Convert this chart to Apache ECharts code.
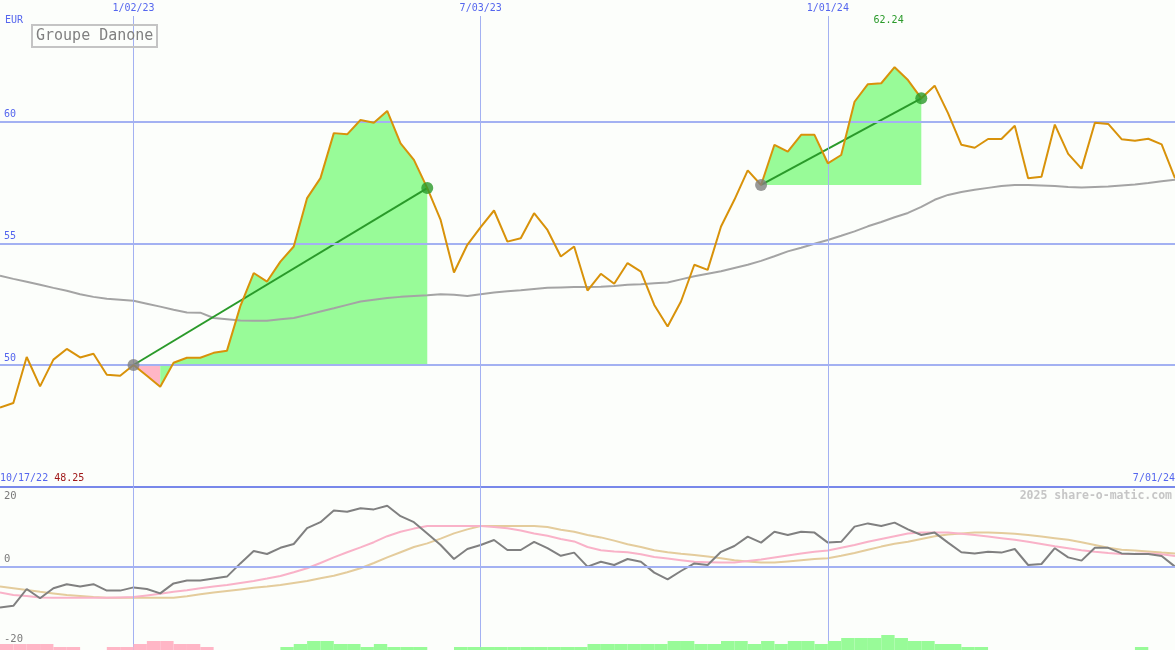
<!DOCTYPE html>
<html><head><meta charset="utf-8">
<script src="https://cdn.jsdelivr.net/npm/echarts@6/dist/echarts.min.js"></script>
<style>html,body{margin:0;padding:0;background:#fcfefb}#c{width:1175px;height:650px}</style>
</head><body><div id="c"></div>
<script>
// ---- data (weekly, index 0 = 10/17/22, index 88 = 7/01/24) ----
const title = 'Groupe Danone';
const currency = 'EUR';
const dateLabels = ['10/17/22','1/02/23','7/03/23','1/01/24','7/01/24'];
const dateIndex = [0,10,36,62,88];
const priceTicks = [50,55,60];
const oscTicks = [20,0,-20];
const price = [48.25,48.44,50.33,49.12,50.22,50.66,50.31,50.46,49.60,49.56,
  50.00,49.56,49.11,50.09,50.30,50.30,50.50,50.59,52.42,53.78,
  53.43,54.25,54.87,56.86,57.68,59.53,59.48,60.07,59.96,60.44,
  59.11,58.43,57.27,55.96,53.80,54.94,55.67,56.35,55.07,55.21,
  56.24,55.55,54.46,54.87,53.06,53.75,53.34,54.19,53.84,52.47,
  51.58,52.61,54.12,53.91,55.69,56.79,58.00,57.40,59.05,58.77,
  59.46,59.46,58.29,58.63,60.82,61.54,61.58,62.24,61.71,60.96,
  61.48,60.35,59.05,58.93,59.29,59.29,59.83,57.68,57.74,59.88,
  58.68,58.07,59.96,59.91,59.28,59.22,59.30,59.07,57.68];
const ma = [53.67,53.54,53.42,53.30,53.17,53.05,52.91,52.80,52.72,52.68,
  52.64,52.52,52.40,52.27,52.16,52.15,51.93,51.88,51.83,51.82,
  51.82,51.88,51.93,52.06,52.20,52.33,52.47,52.61,52.68,52.75,
  52.80,52.84,52.87,52.91,52.89,52.84,52.91,52.98,53.03,53.07,
  53.12,53.17,53.19,53.21,53.21,53.22,53.25,53.30,53.32,53.36,
  53.39,53.52,53.65,53.75,53.85,53.99,54.12,54.28,54.47,54.67,
  54.82,54.98,55.14,55.31,55.49,55.70,55.88,56.07,56.25,56.50,
  56.79,56.99,57.11,57.20,57.28,57.36,57.40,57.40,57.38,57.36,
  57.32,57.30,57.32,57.34,57.38,57.42,57.48,57.55,57.61];
const osc = [-10.1,-9.7,-5.5,-7.8,-5.3,-4.3,-4.9,-4.3,-5.9,-5.9,
  -5.1,-5.5,-6.6,-4.1,-3.4,-3.4,-2.9,-2.4,0.9,4.0,
  3.25,4.8,5.75,9.7,11.2,14.1,13.8,14.7,14.4,15.3,
  12.7,11.2,8.4,5.5,2.0,4.5,5.5,6.75,4.25,4.25,
  6.3,4.7,2.8,3.6,0.1,1.3,0.5,2.0,1.3,-1.4,
  -3.1,-1.0,0.9,0.5,3.8,5.25,7.6,6.1,8.8,8.0,
  8.8,8.6,6.1,6.3,10.1,10.9,10.25,11.1,9.4,8.0,
  8.6,6.1,3.7,3.4,3.8,3.6,4.5,0.5,0.75,4.7,
  2.4,1.6,4.8,4.8,3.4,3.25,3.25,2.75,0.1];
const oscPink = [-6.4,-7.0,-7.25,-7.6,-7.7,-7.7,-7.7,-7.7,-7.7,-7.6,
  -7.5,-7.1,-6.7,-6.2,-5.8,-5.3,-4.9,-4.5,-4.0,-3.5,
  -2.9,-2.25,-1.3,-0.3,1.0,2.4,3.7,4.9,6.2,7.7,
  8.8,9.6,10.25,10.25,10.25,10.25,10.25,10.0,9.7,9.1,
  8.4,7.8,7.0,6.4,5.0,4.2,3.9,3.7,3.2,2.5,
  2.1,1.7,1.3,1.2,1.1,1.1,1.5,1.9,2.4,2.9,
  3.4,3.8,4.1,4.8,5.5,6.3,7.0,7.7,8.4,8.6,
  8.6,8.6,8.3,8.0,7.6,7.2,6.8,6.3,5.75,5.2,
  4.7,4.2,3.8,3.5,3.25,3.3,3.4,3.2,2.75];
const oscTan = [-4.9,-5.3,-5.75,-6.2,-6.6,-7.0,-7.25,-7.5,-7.7,-7.7,
  -7.7,-7.7,-7.7,-7.7,-7.3,-6.8,-6.4,-6.0,-5.6,-5.2,
  -4.9,-4.5,-4.0,-3.5,-2.8,-2.2,-1.3,-0.3,1.0,2.4,
  3.7,5.0,5.9,7.1,8.4,9.4,10.25,10.25,10.25,10.25,
  10.25,10.0,9.3,8.8,8.0,7.4,6.6,5.7,5.0,4.2,
  3.7,3.3,3.0,2.6,2.2,1.7,1.4,1.1,1.1,1.4,
  1.7,2.0,2.2,2.8,3.5,4.3,5.1,5.8,6.3,7.0,
  7.7,8.1,8.4,8.6,8.6,8.5,8.3,8.0,7.6,7.2,
  6.8,6.2,5.5,4.8,4.3,4.1,3.9,3.6,3.4];
// histogram levels per week (negative = pink, positive = green)
const hist = [-2,-2,-2,-2,-1,-1,0,0,-1,-1,-2,-3,-3,-2,-2,-1,0,0,0,0,0,
  1,2,3,3,2,2,1,2,1,1,1,0,0,
  1,1,1,1,1,1,1,1,1,1,2,2,2,2,2,2,3,3,2,2,3,3,2,3,2,3,3,2,3,
  4,4,4,5,4,3,3,2,2,1,1,0,0,0,0,0,0,0,0,0,0,0,1,0,0];
const trendStart = [10,57];
const trendEnd = [32,69];
const fillSplit = [12,57];   // pink fill up to this week, green after

// ---- styles ----
const MONO = 'DejaVu Sans Mono';
const GRID_C = '#a3b1f2';
const AXIS_C = '#7888ea';
const LABEL_C = '#5566ee';
const GREEN_FILL = '#98fb98';
const PINK_FILL = '#ffb6c6';
const N = price.length - 1;

function seg(arr, a, b){ const out=[]; for(let i=a;i<=b;i++) out.push([i, arr[i]]); return out; }

const series = [];
// gridline holder, upper panel
series.push({
  type:'line', xAxisIndex:0, yAxisIndex:0, z:1, silent:true,
  data: seg(ma,0,N), showSymbol:false, lineStyle:{width:0, opacity:0},
  markLine:{ silent:true, symbol:['none','none'], animation:false,
    data: priceTicks.map(v=>({yAxis:v, name:String(v),
        lineStyle:{color:GRID_C,width:2,type:'solid'},
        label:{show:true, position:'insideStartTop', formatter:'{b}', color:LABEL_C,
               fontFamily:MONO, fontSize:10, distance:[4,2]}}))
      .concat(dateIndex.slice(1,4).map((d,k)=>({xAxis:d, name:dateLabels[k+1],
        lineStyle:{color:GRID_C,width:1,type:'solid'},
        label:{show:true, position:'end', formatter:'{b}', color:LABEL_C,
               fontFamily:MONO, fontSize:10, distance:3}})))
  }
});
// fills
for (let k=0;k<trendStart.length;k++){
  const base = price[trendStart[k]];
  if (fillSplit[k] > trendStart[k]) {
    series.push({type:'line', xAxisIndex:0, yAxisIndex:0, z:2, silent:true,
      data: seg(price, trendStart[k], fillSplit[k]), showSymbol:false,
      lineStyle:{width:0}, areaStyle:{color:PINK_FILL, opacity:1, origin:base}});
  }
  series.push({type:'line', xAxisIndex:0, yAxisIndex:0, z:2, silent:true,
    data: seg(price, fillSplit[k], trendEnd[k]), showSymbol:false,
    lineStyle:{width:0}, areaStyle:{color:GREEN_FILL, opacity:1, origin:base}});
}
// moving average
series.push({type:'line', xAxisIndex:0, yAxisIndex:0, z:3, data: seg(ma,0,N),
  showSymbol:false, lineStyle:{color:'#a4a4a4', width:2}});
// trend lines
for (let k=0;k<trendStart.length;k++){
  series.push({type:'line', xAxisIndex:0, yAxisIndex:0, z:4,
    data:[[trendStart[k], price[trendStart[k]]],[trendEnd[k], price[trendEnd[k]]]],
    showSymbol:false, lineStyle:{color:'#2a9a2a', width:2}});
}
// price
series.push({type:'line', xAxisIndex:0, yAxisIndex:0, z:5, data: seg(price,0,N),
  showSymbol:false, lineStyle:{color:'#d8920a', width:2},
  markPoint:{ symbol:'circle', symbolSize:0, animation:false,
    data:[{type:'max'}],
    label:{show:true, position:'top', offset:[-6,-37], color:'#2a9a2a', fontFamily:MONO, fontSize:10,
      formatter:p=>Number(p.value).toFixed(2)} }});
// dots
series.push({type:'scatter', xAxisIndex:0, yAxisIndex:0, z:6, symbolSize:12,
  data: trendStart.map(i=>[i, price[i]]), itemStyle:{color:'#808080'}});
series.push({type:'scatter', xAxisIndex:0, yAxisIndex:0, z:6, symbolSize:12,
  data: trendEnd.map(i=>[i, price[i]]), itemStyle:{color:'#2a9a2a'}});

// lower panel gridlines
series.push({
  type:'line', xAxisIndex:1, yAxisIndex:1, z:1, silent:true,
  data: seg(osc,0,N), showSymbol:false, lineStyle:{width:0, opacity:0},
  markLine:{ silent:true, symbol:['none','none'], animation:false,
    data: oscTicks.map(v=>({yAxis:v, name:String(v),
        lineStyle:{color: v===0 ? GRID_C : 'rgba(0,0,0,0)', width:2, type:'solid'},
        label:{show:true, position: v>0?'insideStartBottom':'insideStartTop', formatter:'{b}',
          color:'#7a7a7a', fontFamily:MONO, fontSize:10.5, distance:[4, v>0?4:2]}}))
      .concat(dateIndex.slice(1,4).map(d=>({xAxis:d,
        lineStyle:{color:GRID_C,width:1,type:'solid'}, label:{show:false}})))
  }
});
series.push({type:'line', xAxisIndex:1, yAxisIndex:1, z:3, data: seg(oscTan,0,N),
  showSymbol:false, lineStyle:{color:'#e4cc9c', width:2}});
series.push({type:'line', xAxisIndex:1, yAxisIndex:1, z:3, data: seg(oscPink,0,N),
  showSymbol:false, lineStyle:{color:'#f9b2c8', width:2}});
series.push({type:'line', xAxisIndex:1, yAxisIndex:1, z:4, data: seg(osc,0,N),
  showSymbol:false, lineStyle:{color:'#808080', width:2}});
// histogram
series.push({type:'bar', xAxisIndex:2, yAxisIndex:2, z:5, barWidth:'100%', barCategoryGap:0,
  data: hist.map(v=>({value:Math.abs(v), itemStyle:{color: v<0?PINK_FILL:GREEN_FILL}}))});

const option = {
  animation:false,
  backgroundColor:'#fcfefb',
  title:{ text:title, left:32, top:25, padding:[4,4,3,4], borderWidth:2, borderColor:'#c4c4c4',
    textStyle:{fontFamily:MONO, fontSize:15, fontWeight:'normal', color:'#808080'} },
  graphic:[
    {type:'text', left:5, top:15, style:{text:currency, fill:LABEL_C, font:'10px "DejaVu Sans Mono"'}},
    {type:'text', right:3, top:490, style:{text:'2025 share-o-matic.com', fill:'#c6c6c6', font:'bold 11.5px "DejaVu Sans Mono"'}}
  ],
  grid:[
    {left:0, right:0, top:16, bottom:163.35, outerBoundsMode:'none', containLabel:false},
    {left:0, right:0, top:487, bottom:0, outerBoundsMode:'none', containLabel:false},
    {left:0, right:0, top:620, bottom:0, outerBoundsMode:'none', containLabel:false}
  ],
  xAxis:[
    {gridIndex:0, type:'value', min:0, max:N, interval:N,
      axisLine:{show:true, onZero:false, lineStyle:{color:AXIS_C, width:2}},
      axisTick:{show:false}, splitLine:{show:false},
      axisLabel:{show:true, inside:true, margin:3, fontFamily:MONO, fontSize:10,
        alignMinLabel:'left', alignMaxLabel:'right',
        formatter:v=> v===0 ? `{d|${dateLabels[0]}} {p|${price[0].toFixed(2)}}` : `{d|${dateLabels[4]}}`,
        rich:{d:{color:LABEL_C, fontFamily:MONO, fontSize:10}, p:{color:'#a01818', fontFamily:MONO, fontSize:10}}}},
    {gridIndex:1, type:'value', min:0, max:N, show:false},
    {gridIndex:2, type:'category', data: hist.map((v,i)=>i), show:false, boundaryGap:true}
  ],
  yAxis:[
    {gridIndex:0, type:'value', min:45, max:64.344, show:false},
    {gridIndex:1, type:'value', min:-20.75, max:20, show:false},
    {gridIndex:2, type:'value', min:0, max:10, show:false}
  ],
  series
};
const chart = echarts.init(document.getElementById('c'), null, {renderer:'canvas'});
chart.setOption(option);
</script></body></html>
